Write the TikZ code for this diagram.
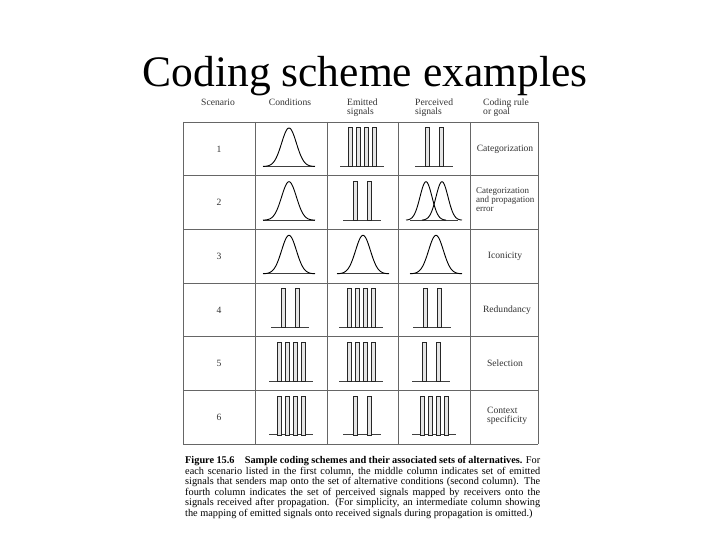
\documentclass[tikz,border=0pt]{standalone}
\usepackage{fontspec}
\setmainfont{Liberation Serif}
\newcommand{\fourbars}[2]{%
  \draw[sigbase] ({#1-22},{#2+44.5}) -- ({#1+22},{#2+44.5});
  \foreach \o in {-12,-4,4,12} \filldraw[sigbar] ({#1+\o-2.2},{#2+5.5}) rectangle ({#1+\o+2.2},{#2+44.5});}
\newcommand{\twobars}[2]{%
  \draw[sigbase] ({#1-19},{#2+44.5}) -- ({#1+19},{#2+44.5});
  \foreach \o in {-7,7} \filldraw[sigbar] ({#1+\o-2.2},{#2+5.5}) rectangle ({#1+\o+2.2},{#2+44.5});}
\newcommand{\gausscurve}[2]{%
  \draw[sigbase] ({#1-26},{#2+44.5}) -- ({#1+26},{#2+44.5});
  \draw[gcurve] plot[domain=-26:26,samples=61,smooth] ({#1+\x},{#2+44.5-38.5*exp(-((\x)*(\x))/109.5)});}
\newcommand{\twogauss}[2]{%
  \draw[sigbase] ({#1-24},{#2+44.5}) -- ({#1+24},{#2+44.5});
  \draw[gcurve] plot[domain=-20:20,samples=51,smooth] ({#1-8+\x},{#2+44.5-38.5*exp(-((\x)*(\x))/72)});
  \draw[gcurve] plot[domain=-20:20,samples=51,smooth] ({#1+8+\x},{#2+44.5-38.5*exp(-((\x)*(\x))/72)});}
\begin{document}
\begin{tikzpicture}[x=1pt,y=-1pt,
  gridline/.style={draw=black!60, line width=0.8pt},
  sigbar/.style={draw=black!85, fill=black!10, line width=0.5pt},
  sigbase/.style={draw=black!75, line width=0.8pt},
  gcurve/.style={draw=black, line width=0.9pt},
  lab/.style={font=\fontsize{9.6}{9.6}\selectfont, text=black!80, inner sep=0pt}]
\useasboundingbox (0,0) rectangle (720,540);
\fill[white] (0,0) rectangle (720,540);
% title
\node[anchor=base, font=\fontsize{43.5}{50}\selectfont, inner sep=0pt] (title) at (365,87) {Coding scheme examples};
% header
\node[lab, anchor=north] (h1) at (218,98.5) {Scenario};
\node[lab, anchor=north] (h2) at (290,98.5) {Conditions};
\node[lab, anchor=north west, align=left] (h3) at (347,98.5) {Emitted\\signals};
\node[lab, anchor=north west, align=left] (h4) at (415,98.5) {Perceived\\signals};
\node[lab, anchor=north west, align=left] (h5) at (483,98.5) {Coding rule\\or goal};
% grid
\foreach \y in {122,175.7,229.3,283,336.7,390.3,444} \draw[gridline] (183,\y) -- (538,\y);
\foreach \x in {183,255,327,398,470,538} \draw[gridline] (\x,122) -- (\x,444);
% scenario numbers
\node[lab] (n1) at (219,149) {1};
\node[lab] (n2) at (219,202.7) {2};
\node[lab] (n3) at (219,256.3) {3};
\node[lab] (n4) at (219,310) {4};
\node[lab] (n5) at (219,363.7) {5};
\node[lab] (n6) at (219,417.3) {6};
% row 1
\gausscurve{289}{122}
\fourbars{362}{122}
\twobars{434}{122}
\node[lab] (r1) at (505,149) {Categorization};
% row 2
\gausscurve{289}{175.7}
\twobars{362}{175.7}
\twogauss{434}{175.7}
\node[lab, anchor=west, align=left, font=\fontsize{9}{9}\selectfont] (r2) at (476,200) {Categorization\\and propagation\\error};
% row 3
\gausscurve{289}{229.3}
\gausscurve{363}{229.3}
\gausscurve{436}{229.3}
\node[lab] (r3) at (505,256.3) {Iconicity};
% row 4
\twobars{290}{283}
\fourbars{361}{283}
\twobars{432}{283}
\node[lab] (r4) at (507,310) {Redundancy};
% row 5
\fourbars{291}{336.7}
\fourbars{361}{336.7}
\twobars{431}{336.7}
\node[lab] (r5) at (505,363.7) {Selection};
% row 6
\fourbars{291}{390.3}
\twobars{362}{390.3}
\fourbars{434}{390.3}
\node[lab, anchor=west, align=left] (r6) at (487,416) {Context\\specificity};
% caption
\node[anchor=north west, text width=355pt, align=justify, inner sep=0pt,
  font=\fontsize{10.3}{10.6}\selectfont] (cap) at (185,456)
{\textbf{Figure 15.6\quad Sample coding schemes and their associated sets of alternatives.} For\linebreak
each scenario listed in the first column, the middle column indicates set of emitted\linebreak
signals that senders map onto the set of alternative conditions (second column). The\linebreak
fourth column indicates the set of perceived signals mapped by receivers onto the\linebreak
signals received after propagation. (For simplicity, an intermediate column showing\linebreak
the mapping of emitted signals onto received signals during propagation is omitted.)};
\end{tikzpicture}
\end{document}
